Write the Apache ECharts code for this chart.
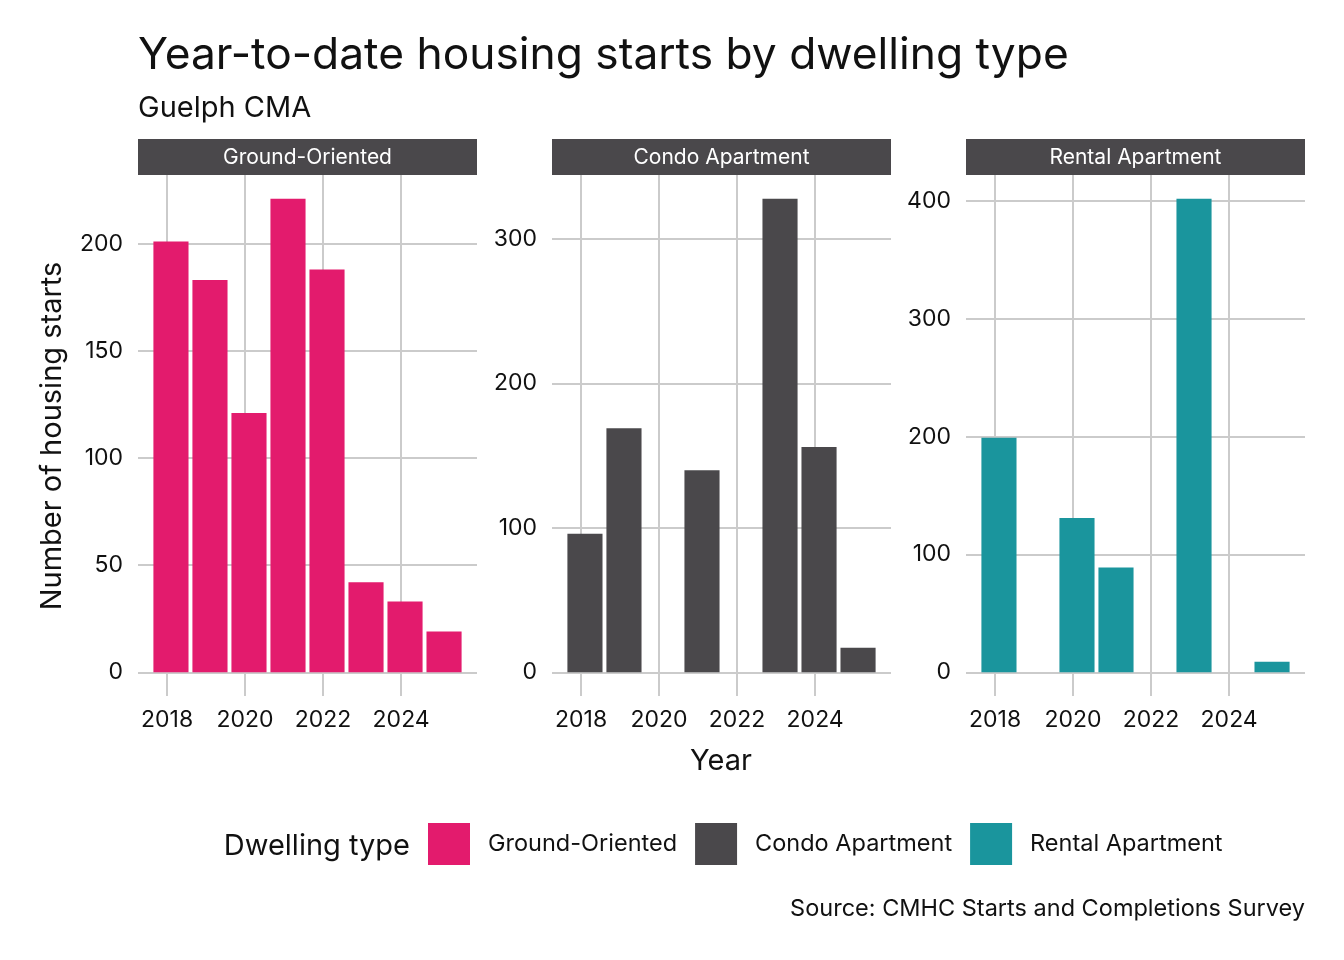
<!DOCTYPE html>
<html><head><meta charset="utf-8">
<script src="https://cdn.jsdelivr.net/npm/echarts@6/dist/echarts.min.js"></script>
<style>html,body{margin:0;padding:0;background:#fff}#c{width:1344px;height:960px}</style>
</head><body><div id="c"></div>
<script>
// ---- data ----
const years = [2018, 2019, 2020, 2021, 2022, 2023, 2024, 2025];
const dwellingTypes = ['Ground-Oriented', 'Condo Apartment', 'Rental Apartment'];
const groundOriented = [201, 183, 121, 221, 188, 42, 33, 19];
const condoApartment = [96, 169, 0, 140, 0, 328, 156, 17];
const rentalApartment = [199, 0, 131, 89, 0, 402, 0, 9];
const xTickLabels = [2018, 2020, 2022, 2024];
const yTicksGround = [0, 50, 100, 150, 200];
const yTicksCondo = [0, 100, 200, 300];
const yTicksRental = [0, 100, 200, 300, 400];
const titleText = 'Year-to-date housing starts by dwelling type';
const subtitleText = 'Guelph CMA';
const captionText = 'Source: CMHC Starts and Completions Survey';

// ---- styling / layout ----
const FONT = 'Inter, "Noto Sans", sans-serif';
const colors = ['#E31B6D', '#4A484B', '#1A959D'];
const stripColor = '#4A484B';
const gridColor = '#CBCBCB';
const textColor = '#111111';
const panelLefts = [138, 552, 966];
const panelW = 339, panelTop = 175, panelH = 521;
const barOffset = 0.1;   // bars sit slightly after the Jan-1 gridline
const barFrac = 0.9;

const seriesVals = [groundOriented, condoApartment, rentalApartment];
const yTicks = [yTicksGround, yTicksCondo, yTicksRental];

// x range like ggplot's 5% expansion around bar extents
const xLo = years[0] + barOffset - barFrac / 2;
const xHi = years[years.length - 1] + barOffset + barFrac / 2;
const xPad = (xHi - xLo) * 0.05;
const xMin = xLo - xPad, xMax = xHi + xPad;
const barPx = barFrac * panelW / (xMax - xMin);

const grids = [], xAxes = [], yAxes = [], series = [], graphics = [];
seriesVals.forEach((vals, i) => {
  const vmax = Math.max.apply(null, vals);
  grids.push({ left: panelLefts[i], top: panelTop, width: panelW, height: panelH, outerBoundsMode: 'none' });
  xAxes.push({
    gridIndex: i, type: 'value', min: xMin, max: xMax,
    axisLine: { show: false },
    axisTick: { show: false, customValues: xTickLabels },
    axisLabel: { customValues: xTickLabels, formatter: v => String(Math.round(v)), color: textColor, fontFamily: FONT, fontSize: 23, margin: 13 },
    splitLine: { show: true, lineStyle: { color: gridColor, width: 2 } }
  });
  yAxes.push({
    gridIndex: i, type: 'value', min: -0.05 * vmax, max: 1.05 * vmax,
    axisLine: { show: false },
    axisTick: { show: false, customValues: yTicks[i] },
    axisLabel: { customValues: yTicks[i], formatter: v => String(Math.round(v)), color: textColor, fontFamily: FONT, fontSize: 23, margin: 15, padding: [3, 0, 0, 0] },
    splitLine: { show: true, lineStyle: { color: gridColor, width: 2 } }
  });
  series.push({
    name: dwellingTypes[i], type: 'bar', xAxisIndex: i, yAxisIndex: i,
    barWidth: barPx, itemStyle: { color: colors[i] },
    data: years.map((y, j) => [y + barOffset, vals[j]]),
    silent: true, z: 3
  });
  // facet strip
  graphics.push({
    type: 'rect', shape: { x: panelLefts[i], y: 139, width: panelW, height: 36 },
    style: { fill: stripColor }, silent: true
  });
  graphics.push({
    type: 'text', x: panelLefts[i] + panelW / 2, y: 158,
    style: { text: dwellingTypes[i], fill: '#ffffff', font: '21px ' + FONT, align: 'center', verticalAlign: 'middle' }, silent: true
  });
});

graphics.push(
  { type: 'text', x: 138, y: 56, style: { text: titleText, fill: textColor, font: '44.3px ' + FONT, align: 'left', verticalAlign: 'middle' } },
  { type: 'text', x: 138, y: 108, style: { text: subtitleText, fill: textColor, font: '29px ' + FONT, align: 'left', verticalAlign: 'middle' } },
  { type: 'text', x: 52, y: 436, rotation: Math.PI / 2, style: { text: 'Number of housing starts', fill: textColor, font: '29px ' + FONT, align: 'center', verticalAlign: 'middle' } },
  { type: 'text', x: 721, y: 761, style: { text: 'Year', fill: textColor, font: '29px ' + FONT, align: 'center', verticalAlign: 'middle' } },
  { type: 'text', x: 410, y: 846, style: { text: 'Dwelling type', fill: textColor, font: '29px ' + FONT, align: 'right', verticalAlign: 'middle' } },
  { type: 'text', x: 1305, y: 909, style: { text: captionText, fill: textColor, font: '23.5px ' + FONT, align: 'right', verticalAlign: 'middle' } }
);

const chart = echarts.init(document.getElementById('c'), null, { renderer: 'canvas' });
chart.setOption({
  backgroundColor: '#ffffff',
  animation: false,
  grid: grids, xAxis: xAxes, yAxis: yAxes, series: series,
  legend: {
    data: dwellingTypes, left: 428, top: 823, orient: 'horizontal', padding: 0,
    icon: 'rect', itemWidth: 42, itemHeight: 42, itemGap: 18, selectedMode: false,
    textStyle: { color: textColor, fontFamily: FONT, fontSize: 23.5, padding: [3, 0, 0, 13] }
  },
  graphic: graphics
});
</script>
</body></html>
